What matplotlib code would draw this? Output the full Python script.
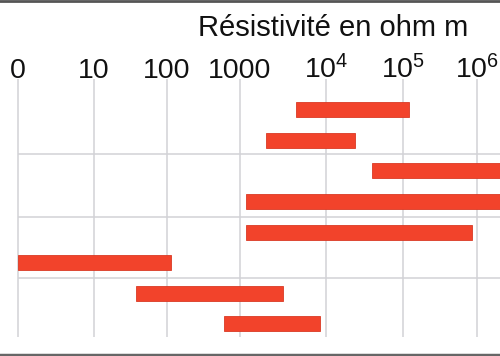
import numpy as np
import matplotlib
matplotlib.use("Agg")
import matplotlib.pyplot as plt

plt.rcParams['font.family'] = ['Liberation Sans', 'DejaVu Sans']
plt.rcParams['mathtext.fontset'] = 'custom'
plt.rcParams['mathtext.rm'] = 'Liberation Sans'

# Plages de résistivité (ohm m), une barre par ligne, de haut en bas
starts = [4500, 2000, 40000, 1160, 1160, 1, 38, 600]
ends = [1.2e5, 2.4e4, 1e7, 1e7, 8.6e5, 115, 3150, 8500]

tick_values = [1, 10, 100, 1000, 1e4, 1e5, 1e6]
tick_labels = ['0', '10', '100', '1000', r'$\mathregular{10^4}$', r'$\mathregular{10^5}$', r'$\mathregular{10^6}$']

# l'axe du dessin original n'est pas parfaitement régulier : échelle par morceaux
decades = np.arange(-1, 8)
positions = np.array([-58, 18, 94, 167, 240, 326, 403, 477, 551], dtype=float)

def forward(x):
    x = np.asarray(x, dtype=float)
    return np.interp(np.log10(np.clip(x, 1e-12, None)), decades, positions)

def inverse(p):
    return 10 ** np.interp(np.asarray(p, dtype=float), positions, decades)

W, H = 500, 356
fig = plt.figure(figsize=(W / 100, H / 100), dpi=100)
top, bottom = 79, 337
ax = fig.add_axes([0, 1 - bottom / H, 1, (bottom - top) / H])

ax.set_xscale('function', functions=(forward, inverse))
ax.set_xlim(inverse(0), inverse(W))

rows = np.arange(len(starts))
widths = [e - s for s, e in zip(starts, ends)]
ax.barh(rows, widths, left=starts, height=0.49, color='#f2432b',
        edgecolor='#d93a24', linewidth=0.6, zorder=3)
ax.set_ylim(7.43, -1.0)

# grille
for v in tick_values:
    ax.axvline(v, color='#d2d2d6', linewidth=1.1, zorder=1)
for y in [1.45, 3.52, 5.5]:
    ax.hlines(y, 1, 1e8, color='#d2d2d6', linewidth=1.1, zorder=1)

ax.xaxis.tick_top()
ax.set_xticks(tick_values)
ax.set_xticklabels(tick_labels, fontsize=20.5, color='#111111')
ax.tick_params(axis='x', length=0, pad=-3.5)
ax.set_yticks([])
ax.xaxis.set_minor_locator(matplotlib.ticker.NullLocator())
for s in ax.spines.values():
    s.set_visible(False)

fig.text(333 / W, 1 - 28 / H, 'Résistivité en ohm m', fontsize=21,
         ha='center', va='center', color='#111111')

# bordures de la capture
fig.add_artist(plt.Line2D([0, 1], [1 - 1 / H, 1 - 1 / H], color='#555555', linewidth=2))
fig.add_artist(plt.Line2D([0, 1], [1 - 355 / H, 1 - 355 / H], color='#666666', linewidth=2.5))

fig.savefig('out.png', dpi=100)
